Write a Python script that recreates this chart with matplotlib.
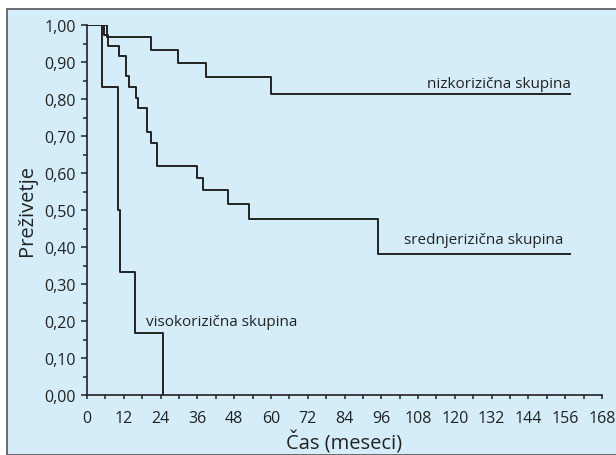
import matplotlib
matplotlib.use("Agg")
import matplotlib.pyplot as plt
from matplotlib.patches import Rectangle
from matplotlib.ticker import MultipleLocator, FuncFormatter

# Kaplan-Meier step data (time in months, survival)
low_t = [0, 6.4, 20.8, 29.8, 38.7, 59.9, 157.5]
low_s = [1.00, 0.967, 0.933, 0.897, 0.860, 0.813, 0.813]

mid_t = [0, 5.6, 7.0, 10.5, 12.7, 13.8, 16.0, 16.5, 19.7, 20.9, 22.7, 35.8, 37.9, 45.9, 52.7, 94.8, 157.5]
mid_s = [1.00, 0.973, 0.944, 0.917, 0.861, 0.832, 0.804, 0.775, 0.712, 0.681, 0.620, 0.586, 0.554, 0.517, 0.476, 0.382, 0.382]

high_t = [0, 5.0, 10.0, 10.8, 15.8, 24.7]
high_s = [1.00, 0.833, 0.500, 0.333, 0.167, 0.0]

labels = ["nizkorizična skupina", "srednjerizična skupina", "visokorizična skupina"]
x_label = "Čas (meseci)"
y_label = "Preživetje"

bg = "#d4edf9"
ink = "#222222"
plt.rcParams['font.family'] = ['Open Sans', 'DejaVu Sans']

fig = plt.figure(figsize=(6.16, 4.56), dpi=100)
fig.patch.set_facecolor("white")
fig.patches.append(Rectangle((7/616, 0), 1.0, 1 - 10/456, transform=fig.transFigure,
                             facecolor=bg, edgecolor="#555555", linewidth=1.2, zorder=-10))

ax = fig.add_axes([87/616, 1 - 396/456, (602-87)/616, (396-26)/456])
ax.set_zorder(5)
ax.set_facecolor("none")

for t, s in [(low_t, low_s), (mid_t, mid_s), (high_t, high_s)]:
    ax.step(t, s, where="post", color=ink, linewidth=1.4)

ax.set_xlim(0, 168)
ax.set_ylim(0, 1.0)
ax.xaxis.set_major_locator(MultipleLocator(12))
ax.xaxis.set_minor_locator(MultipleLocator(6))
ax.yaxis.set_major_locator(MultipleLocator(0.1))
ax.yaxis.set_minor_locator(MultipleLocator(0.05))
ax.yaxis.set_major_formatter(FuncFormatter(lambda v, p: f"{v:.2f}".replace(".", ",")))
for sp in ["top", "right"]:
    ax.spines[sp].set_visible(False)
for sp in ["left", "bottom"]:
    ax.spines[sp].set_color(ink)
    ax.spines[sp].set_linewidth(1.2)
ax.tick_params(which="major", direction="out", length=4, width=1.1, color=ink,
               labelsize=11.5, labelcolor=ink, pad=4)
ax.tick_params(which="minor", direction="out", length=3, width=1.1, color=ink)
ax.tick_params(axis="x", which="major", length=3, pad=8)
ax.tick_params(axis="x", which="minor", length=3)

ax.set_xlabel(x_label, fontsize=14.5, color=ink, labelpad=3)
ax.set_ylabel(y_label, fontsize=14.5, color=ink, labelpad=5)

ax.text(157.8, 0.822, labels[0], ha="right", va="bottom", fontsize=11, color=ink)
ax.text(155.5, 0.40, labels[1], ha="right", va="bottom", fontsize=11, color=ink)
ax.text(19.3, 0.20, labels[2], ha="left", va="center", fontsize=11, color=ink)

fig.savefig("out.png", dpi=100, facecolor=fig.get_facecolor())
